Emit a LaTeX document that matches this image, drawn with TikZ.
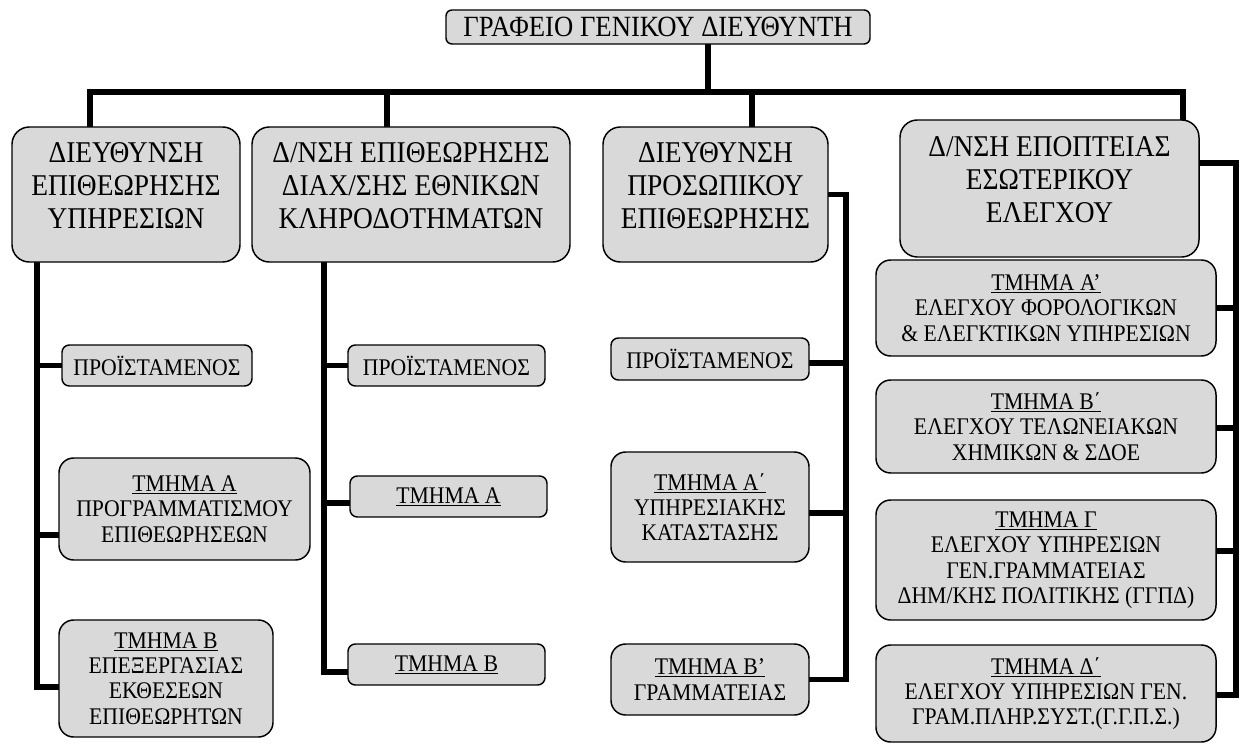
\documentclass[tikz,border=0pt]{standalone}
\usepackage{fontspec}
\setmainfont{Liberation Serif}[FakeStretch=0.91]
\usetikzlibrary{calc,backgrounds}
\definecolor{boxgray}{RGB}{217,217,217}
\tikzset{
  box/.style={draw=black, line width=1.1pt, fill=boxgray, align=center, inner sep=1pt},
  sz/.style 2 args={minimum width={#1*0.75pt}, minimum height={#2*0.75pt}},
  topbox/.style={box, rounded corners=4.5pt, font=\fontsize{22}{24}\selectfont},
  dirbox/.style={box, rounded corners=13pt, text depth=13pt, font=\fontsize{22.6}{24.75}\selectfont},
  smallbox/.style={box, rounded corners=5.5pt, font=\fontsize{17.9}{19}\selectfont},
  midbox/.style={box, rounded corners=11pt, font=\fontsize{17.9}{19}\selectfont},
  bar/.style={line width=4.2pt, line cap=rect, line join=miter},
}
\begin{document}
\begin{tikzpicture}[x=0.75pt,y=-0.75pt]
\useasboundingbox (0,0) rectangle (1241,745);

% top
\node[topbox, sz={424}{34}] (top) at (658,27) {ΓΡΑΦΕΙΟ ΓΕΝΙΚΟΥ ΔΙΕΥΘΥΝΤΗ};

% directorates
\node[dirbox, sz={228}{135}] (D1) at (126,194.5) {ΔΙΕΥΘΥΝΣΗ\\ΕΠΙΘΕΩΡΗΣΗΣ\\ΥΠΗΡΕΣΙΩΝ};
\node[dirbox, sz={318}{135}] (D2) at (411,194.5) {Δ/ΝΣΗ ΕΠΙΘΕΩΡΗΣΗΣ\\ΔΙΑΧ/ΣΗΣ ΕΘΝΙΚΩΝ\\ΚΛΗΡΟΔΟΤΗΜΑΤΩΝ};
\node[dirbox, sz={225}{135}] (D3) at (715.5,194.5) {ΔΙΕΥΘΥΝΣΗ\\ΠΡΟΣΩΠΙΚΟΥ\\ΕΠΙΘΕΩΡΗΣΗΣ};
\node[dirbox, sz={299}{137}] (D4) at (1049.5,188.5) {Δ/ΝΣΗ ΕΠΟΠΤΕΙΑΣ\\ΕΣΩΤΕΡΙΚΟΥ\\ΕΛΕΓΧΟΥ};

% column 1
\node[smallbox, sz={190}{41}] (P1) at (157,365.5) {ΠΡΟΪΣΤΑΜΕΝΟΣ};
\node[midbox, sz={251}{102}] (A1) at (184.5,509) {\underline{ΤΜΗΜΑ Α}\\ΠΡΟΓΡΑΜΜΑΤΙΣΜΟΥ\\ΕΠΙΘΕΩΡΗΣΕΩΝ};
\node[midbox, sz={214}{117}] (B1) at (166,678.5) {\underline{ΤΜΗΜΑ Β}\\ΕΠΕΞΕΡΓΑΣΙΑΣ\\ΕΚΘΕΣΕΩΝ\\ΕΠΙΘΕΩΡΗΤΩΝ};

% column 2
\node[smallbox, sz={197}{41}] (P2) at (446.5,365.5) {ΠΡΟΪΣΤΑΜΕΝΟΣ};
\node[smallbox, sz={197}{41}] (A2) at (448.5,496.5) {\underline{ΤΜΗΜΑ Α}};
\node[smallbox, sz={197}{41}] (B2) at (446.5,664.5) {\underline{ΤΜΗΜΑ Β}};

% column 3
\node[smallbox, sz={198}{42}] (P3) at (710,359) {ΠΡΟΪΣΤΑΜΕΝΟΣ};
\node[midbox, sz={198}{110}] (A3) at (710,507) {\underline{ΤΜΗΜΑ Α΄}\\ΥΠΗΡΕΣΙΑΚΗΣ\\ΚΑΤΑΣΤΑΣΗΣ};
\node[midbox, sz={198}{71}] (B3) at (710,679.5) {\underline{ΤΜΗΜΑ Β’}\\ΓΡΑΜΜΑΤΕΙΑΣ};

% column 4
\node[midbox, sz={340}{96}] (A4) at (1046,308) {\underline{ΤΜΗΜΑ Α’}\\ΕΛΕΓΧΟΥ ΦΟΡΟΛΟΓΙΚΩΝ\\\& ΕΛΕΓΚΤΙΚΩΝ ΥΠΗΡΕΣΙΩΝ};
\node[midbox, sz={340}{93}] (B4) at (1046,426.5) {\underline{ΤΜΗΜΑ Β΄}\\ΕΛΕΓΧΟΥ ΤΕΛΩΝΕΙΑΚΩΝ\\ΧΗΜΙΚΩΝ \& ΣΔΟΕ};
\node[midbox, sz={340}{120}] (G4) at (1046,560) {\underline{ΤΜΗΜΑ Γ}\\ΕΛΕΓΧΟΥ ΥΠΗΡΕΣΙΩΝ\\ΓΕΝ.ΓΡΑΜΜΑΤΕΙΑΣ\\ΔΗΜ/ΚΗΣ ΠΟΛΙΤΙΚΗΣ (ΓΓΠΔ)};
\node[midbox, sz={340}{97}] (DD4) at (1046,693.5) {\underline{ΤΜΗΜΑ Δ΄}\\ΕΛΕΓΧΟΥ ΥΠΗΡΕΣΙΩΝ ΓΕΝ.\\ΓΡΑΜ.ΠΛΗΡ.ΣΥΣΤ.(Γ.Γ.Π.Σ.)};

% helper coordinates
\coordinate (s0) at (708,92);
\coordinate (s1) at (90,92);
\coordinate (s2) at (387,92);
\coordinate (s3) at (752,92);
\coordinate (s4) at (1183,92);
\coordinate (c1) at (37,0);
\coordinate (c2) at (324,0);
\coordinate (c3) at (846,0);
\coordinate (c4) at (1236,0);
\coordinate (a1w) at ($(A1.west)+(0,26)$);
\coordinate (b1w) at ($(B1.west)+(0,8.5)$);
\coordinate (a2w) at ($(A2.west)+(0,6.5)$);
\coordinate (b2w) at ($(B2.west)+(0,7.5)$);
\coordinate (p3e) at ($(P3.east)+(0,4)$);
\coordinate (a3e) at ($(A3.east)+(0,6)$);
\coordinate (d4e) at ($(D4.east)+(0,-25.5)$);
\coordinate (b4e) at ($(B4.east)+(0,1.5)$);
\coordinate (g4e) at ($(G4.east)+(0,-9)$);
\coordinate (dd4e) at ($(DD4.east)+(0,1.5)$);

\begin{scope}[on background layer]
  % top bus
  \draw[bar] (s0 |- top.south) -- (s0);
  \draw[bar] (s1 |- D1.north) -- (s1) -- (s4) -- (s4 |- D4.north);
  \draw[bar] (s2) -- (s2 |- D2.north);
  \draw[bar] (s3) -- (s3 |- D3.north);
  % column 1
  \draw[bar] (c1 |- D1.south) -- (c1 |- b1w) -- (b1w);
  \draw[bar] (c1 |- P1.west) -- (P1.west);
  \draw[bar] (c1 |- a1w) -- (a1w);
  % column 2
  \draw[bar] (c2 |- D2.south) -- (c2 |- b2w) -- (b2w);
  \draw[bar] (c2 |- P2.west) -- (P2.west);
  \draw[bar] (c2 |- a2w) -- (a2w);
  % column 3
  \draw[bar] (D3.east) -- (c3 |- D3.east) -- (c3 |- B3.east) -- (B3.east);
  \draw[bar] (c3 |- p3e) -- (p3e);
  \draw[bar] (c3 |- a3e) -- (a3e);
  % column 4
  \draw[bar] (d4e) -- (c4 |- d4e) -- (c4 |- dd4e) -- (dd4e);
  \draw[bar] (c4 |- A4.east) -- (A4.east);
  \draw[bar] (c4 |- b4e) -- (b4e);
  \draw[bar] (c4 |- g4e) -- (g4e);
\end{scope}
\end{tikzpicture}
\end{document}
